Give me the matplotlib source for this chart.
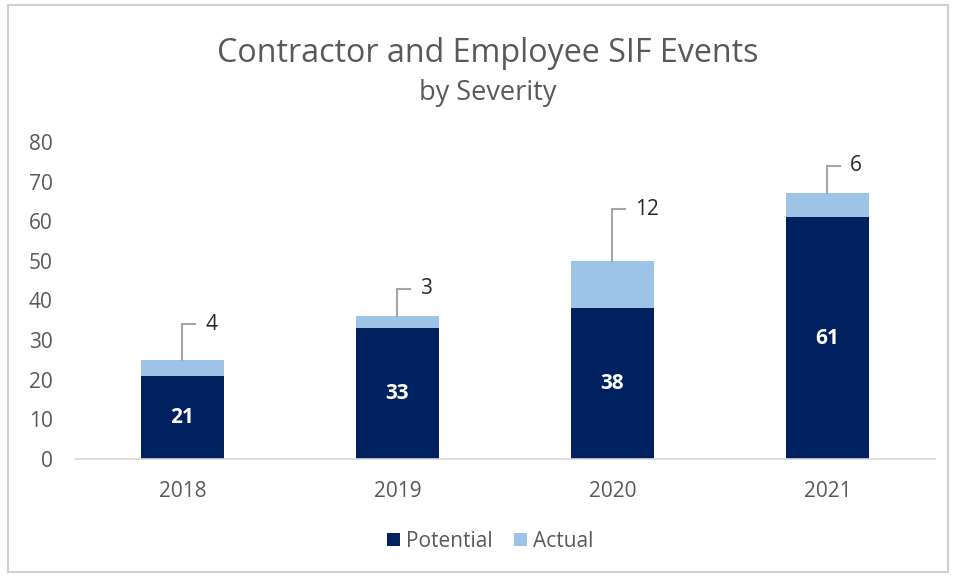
import matplotlib.pyplot as plt
from matplotlib.patches import Rectangle
import numpy as np

years = ['2018', '2019', '2020', '2021']
potential = [21, 33, 38, 61]
actual = [4, 3, 12, 6]
callout_rise = [9, 7, 13, 7]  # how far the callout label sits above the bar top

plt.rcParams['font.family'] = ['Open Sans', 'DejaVu Sans']

navy = '#002060'
light = '#9dc3e6'
grey = '#595959'

fig = plt.figure(figsize=(9.54, 5.77), dpi=100)
ax = fig.add_axes([0.0786, 0.2045, 0.9014, 0.5495])

x = np.arange(len(years))
w = 0.39
ax.bar(x, potential, w, color=navy, label='Potential')
ax.bar(x, actual, w, bottom=potential, color=light, label='Actual')

for i in range(len(years)):
    ax.text(x[i], potential[i] / 2, str(potential[i]), ha='center', va='center',
            color='white', fontsize=15, fontweight='bold')
    top = potential[i] + actual[i]
    ty = top + callout_rise[i]
    ax.plot([x[i], x[i], x[i] + 0.06], [top, ty, ty], color='#a6a6a6', lw=1.5,
            solid_joinstyle='miter', clip_on=False)
    ax.text(x[i] + 0.105, ty, str(actual[i]), ha='left', va='center',
            color='#262626', fontsize=15)

ax.set_xlim(-0.5, 3.5)
ax.set_ylim(0, 80)
ax.set_yticks(range(0, 81, 10))
ax.set_xticks(x)
ax.set_xticklabels(years)
ax.tick_params(axis='both', length=0, labelsize=15, labelcolor=grey)
ax.tick_params(axis='y', pad=16)
ax.tick_params(axis='x', pad=16)
for s in ['top', 'right', 'left']:
    ax.spines[s].set_visible(False)
ax.spines['bottom'].set_color('#d9d9d9')
ax.spines['bottom'].set_linewidth(1.2)

fig.text(0.5115, 0.908, 'Contractor and Employee SIF Events', ha='center', va='center',
         fontsize=23.2, color=grey)
fig.text(0.5115, 0.838, 'by Severity', ha='center', va='center', fontsize=19.5, color=grey)

fig.legend(loc='center', bbox_to_anchor=(0.514, 0.062), ncol=2, frameon=False,
           fontsize=15, labelcolor=grey, handlelength=0.6, handleheight=0.6,
           handletextpad=0.3, columnspacing=1.05)

fig.patches.append(Rectangle((8 / 954, 5 / 577), 940 / 954, 567 / 577, transform=fig.transFigure,
                             fill=False, edgecolor='#d0d0d0', lw=1.5))

fig.savefig('out.png', dpi=100)
